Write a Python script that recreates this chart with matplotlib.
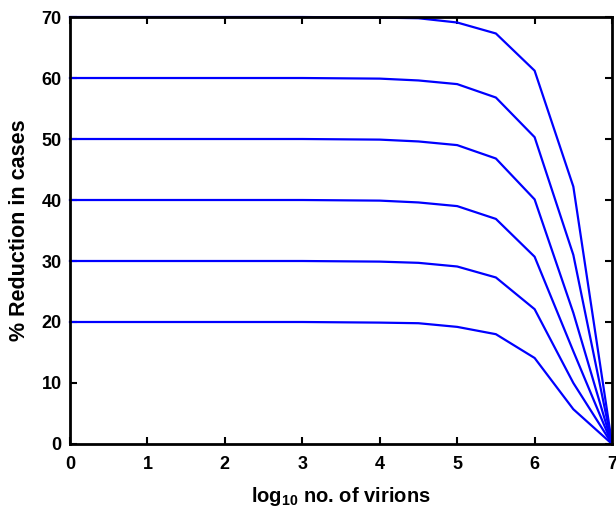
import numpy as np
import matplotlib
matplotlib.use("Agg")
import matplotlib.pyplot as plt

# ── Data ──────────────────────────────────────────────────────────────────────
log_virions = [0, 0.5, 1, 1.5, 2, 2.5, 3, 3.5, 4, 4.5, 5, 5.5, 6, 6.5, 7]

red_70 = [70, 70, 70, 70, 70, 70, 70, 69.95, 69.9, 69.8, 69.1, 67.3, 61.2, 42.2, 0]
red_60 = [60, 60, 60, 60, 60, 60, 60, 59.95, 59.9, 59.6, 59.0, 56.8, 50.3, 31.0, 0]
red_50 = [50, 50, 50, 50, 50, 50, 50, 49.95, 49.9, 49.6, 49.0, 46.8, 40.1, 21.5, 0]
red_40 = [40, 40, 40, 40, 40, 40, 40, 39.95, 39.9, 39.6, 39.0, 36.9, 30.7, 15.2, 0]
red_30 = [30, 30, 30, 30, 30, 30, 30, 29.95, 29.9, 29.7, 29.1, 27.3, 22.1, 10.0, 0]
red_20 = [20, 20, 20, 20, 20, 20, 20, 19.95, 19.9, 19.8, 19.2, 18.0, 14.1, 5.7, 0]

series = [red_70, red_60, red_50, red_40, red_30, red_20]

# ── Plot ──────────────────────────────────────────────────────────────────────
plt.rcParams["font.family"] = ["Liberation Sans", "DejaVu Sans"]
plt.rcParams["font.weight"] = "bold"
plt.rcParams["mathtext.fontset"] = "custom"
plt.rcParams["mathtext.rm"] = "Liberation Sans:bold"
plt.rcParams["mathtext.bf"] = "Liberation Sans:bold"

fig = plt.figure(figsize=(6.16, 5.08), dpi=100)
ax = fig.add_axes([0.1136, 0.126, 0.88, 0.8405])

for ys in series:
    ax.plot(log_virions, ys, color="#0000ff", linewidth=1.6, clip_on=False)

ax.set_xlim(0, 7)
ax.set_ylim(0, 70)
ax.set_xticks(range(0, 8))
ax.set_yticks(range(0, 80, 10))
ax.tick_params(direction="in", top=True, right=True, length=5, width=1.5,
               labelsize=13)
ax.tick_params(axis="x", pad=9)
ax.tick_params(axis="y", pad=6)
for lab in ax.get_xticklabels() + ax.get_yticklabels():
    lab.set_fontweight("bold")
for sp in ax.spines.values():
    sp.set_linewidth(2)

ax.set_xlabel(r"log$_{\mathrm{10}}$ no. of virions", fontsize=14.5,
              fontweight="bold", labelpad=8)
ax.set_ylabel("% Reduction in cases", fontsize=15.5, fontweight="bold",
              labelpad=8)

fig.savefig("out.png", dpi=100)
